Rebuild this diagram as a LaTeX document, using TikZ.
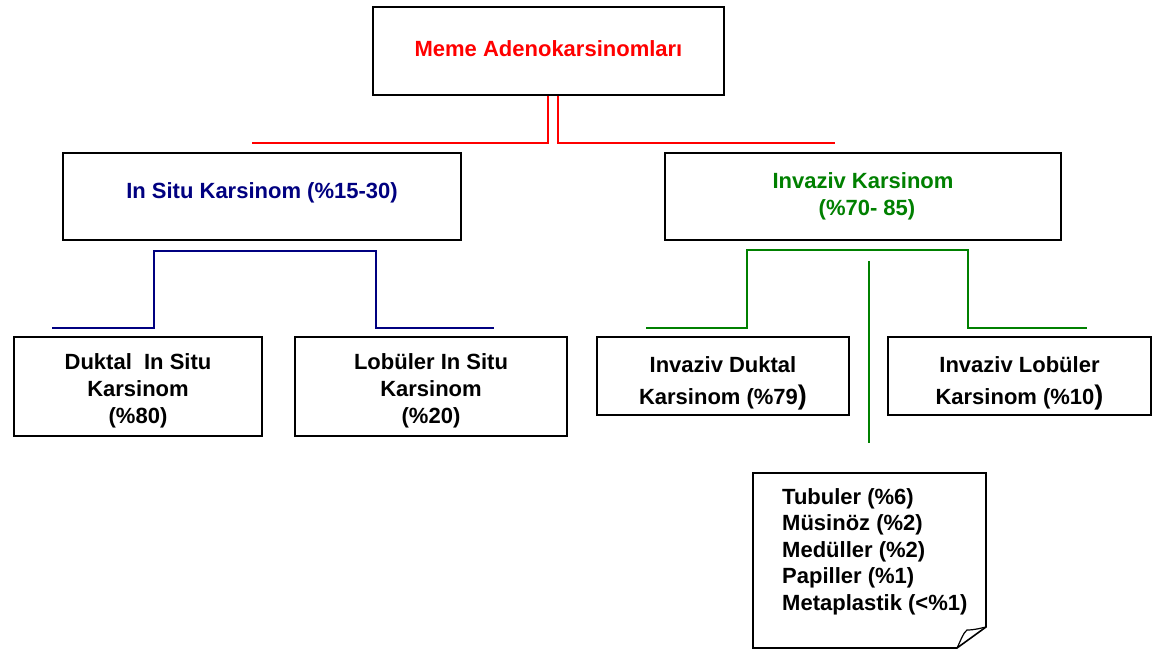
\documentclass[tikz,border=0pt]{standalone}
\usepackage{fontspec}
\setmainfont{Liberation Sans}
\definecolor{navyc}{RGB}{0,0,128}
\definecolor{greenc}{RGB}{0,128,0}
\definecolor{redc}{RGB}{255,0,0}
\newcommand{\shiftlines}[2]{\raisebox{#1}[\height][\depth]{\begin{tabular}{@{}c@{}}#2\end{tabular}}}
\begin{document}
\begin{tikzpicture}[x=1pt,y=-1pt,
  box/.style={draw=black,line width=2pt,fill=white,inner sep=0pt,align=center,
    font=\fontsize{22}{27}\selectfont\bfseries},
  redline/.style={draw=redc,line width=2.8pt},
  blueline/.style={draw=navyc,line width=2.2pt},
  greenline/.style={draw=greenc,line width=2.2pt}]
\useasboundingbox (0,0) rectangle (1160,649);
\fill[white] (0,0) rectangle (1160,649);

% nodes
\node[box,minimum width=351pt,minimum height=88pt,text=redc] (top) at (548.5,51) {\raisebox{2pt}[\height][\depth]{Meme Adenokarsinomları}};
\node[box,minimum width=398pt,minimum height=87pt,text=navyc] (insitu) at (262,196.5) {\raisebox{4pt}[\height][\depth]{In Situ Karsinom (\%15-30)}};
\node[box,minimum width=396pt,minimum height=87pt,text=greenc] (inv) at (863,196.5) {Invaziv Karsinom\\\hspace*{8pt}(\%70- 85)};
\node[box,minimum width=248pt,minimum height=99pt] (dcis) at (138,386.5) {\shiftlines{-5pt}{Duktal\ \ In Situ\\Karsinom\\(\%80)}};
\node[box,minimum width=272pt,minimum height=99pt] (lcis) at (431,386.5) {\shiftlines{-5pt}{Lobüler In Situ\\Karsinom\\(\%20)}};
\node[box,minimum width=252pt,minimum height=78pt,font=\fontsize{22}{32}\selectfont\bfseries] (idc) at (723,376) {\shiftlines{-6pt}{Invaziv Duktal\\Karsinom (\%79{\fontsize{27}{27}\selectfont)}}};
\node[box,minimum width=263pt,minimum height=78pt,font=\fontsize{22}{32}\selectfont\bfseries] (ilc) at (1019.5,376) {\shiftlines{-6pt}{Invaziv Lobüler\\Karsinom (\%10{\fontsize{27}{27}\selectfont)}}};

% note with folded corner
\draw[line width=1.6pt,fill=white] (753,473) -- (986,473) -- (986,627) -- (957,648) -- (753,648) -- cycle;
\draw[line width=1.2pt] (957,648) .. controls (961,640) and (963,633) .. (967,630) .. controls (975,630) and (981,628) .. (986,627);
\node[inner sep=0pt,anchor=north west,align=left,font=\fontsize{22}{26.5}\selectfont\bfseries] (note) at (782,488)
  {Tubuler (\%6)\\Müsinöz (\%2)\\Medüller (\%2)\\Papiller (\%1)\\Metaplastik (<\%1)};

% red connectors
\coordinate (rl) at (252,143);
\coordinate (rr) at (835,143);
\draw[redline] ([xshift=-0.5pt]top.south) |- (rl);
\draw[redline] ([xshift=9.5pt]top.south) |- (rr);

% blue connectors
\coordinate (bl) at (52,328);
\coordinate (bt1) at (154,251);
\coordinate (bt2) at (376,251);
\coordinate (br) at (494,328);
\draw[blueline] (bl) -| (bt1) -- (bt2) |- (br);

% green connectors
\coordinate (gl) at (646,328);
\coordinate (gt1) at (747,250);
\coordinate (gt2) at (968,250);
\coordinate (gr) at (1087,328);
\draw[greenline] (gl) -| (gt1) -- (gt2) |- (gr);
\coordinate (gm1) at (869,261);
\coordinate (gm2) at (869,443);
\draw[greenline] (gm1) -- (gm2);
\end{tikzpicture}
\end{document}
